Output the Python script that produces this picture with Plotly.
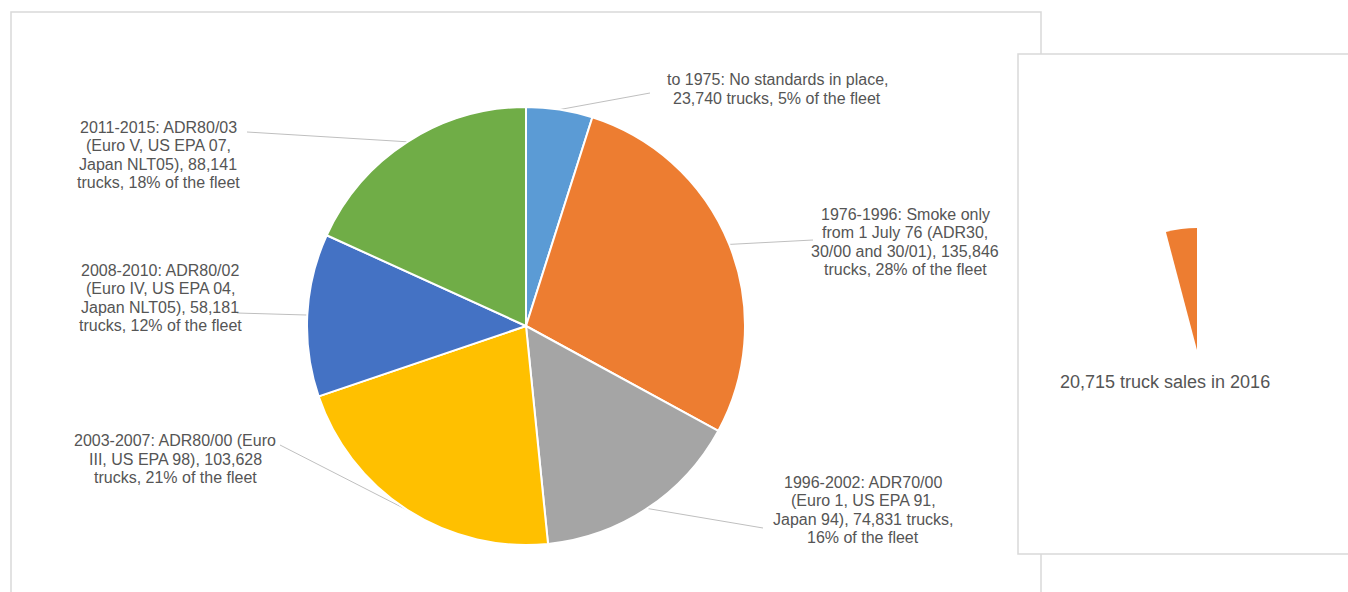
import numpy as np
import plotly.graph_objects as go

# ---------------- data ----------------
categories = ["to 1975", "1976-1996", "1996-2002", "2003-2007", "2008-2010", "2011-2015"]
trucks = [23740, 135846, 74831, 103628, 58181, 88141]
fleet_share_pct = [5, 28, 16, 21, 12, 18]
slice_colors = ["#5B9BD5", "#ED7D31", "#A5A5A5", "#FFC000", "#4472C4", "#70AD47"]
label_texts = [
    "to 1975: No standards in place,<br>23,740 trucks, 5% of the fleet",
    "1976-1996: Smoke only<br>from 1 July 76 (ADR30,<br>30/00 and 30/01), 135,846<br>trucks, 28% of the fleet",
    "1996-2002: ADR70/00<br>(Euro 1, US EPA 91,<br>Japan 94), 74,831 trucks,<br>16% of the fleet",
    "2003-2007: ADR80/00 (Euro<br>III, US EPA 98), 103,628<br>trucks, 21% of the fleet",
    "2008-2010: ADR80/02<br>(Euro IV, US EPA 04,<br>Japan NLT05), 58,181<br>trucks, 12% of the fleet",
    "2011-2015: ADR80/03<br>(Euro V, US EPA 07,<br>Japan NLT05), 88,141<br>trucks, 18% of the fleet",
]
sales_2016 = 20715
sales_label = "20,715 truck sales in 2016"

# ---------------- layout (pixels) ----------------
W, H = 1348, 592
pie_cx, pie_cy, pie_r = 526, 326, 219
pie2_cx, pie2_cy, pie2_r = 1197, 350, 122
# label block centres and leader-line ends near the labels
label_pos = [(777, 89), (905, 242), (863, 510), (175, 459), (160, 298), (158, 155)]
leader_label_end = [(650, 93), (813, 240), (763, 528), (280, 445), (237, 313), (247, 132)]
LINE_H = 18.6

TEXT = "#555555"
FONT = "Liberation Sans, Arial, sans-serif"


def domain(cx, cy, r):
    return dict(x=[(cx - r) / W, (cx + r) / W], y=[(H - cy - r) / H, (H - cy + r) / H])


fig = go.Figure()

# leader lines computed from slice mid-angles
vals = np.array(trucks, dtype=float)
frac = vals / vals.sum()
mid = np.cumsum(frac) - frac / 2
lx, ly = [], []
for m, (ex, ey) in zip(mid, leader_label_end):
    ang = 2 * np.pi * m  # clockwise from 12 o'clock
    px = pie_cx + pie_r * np.sin(ang)
    py = pie_cy - pie_r * np.cos(ang)
    lx += [ex, px, None]
    ly += [ey, py, None]
fig.add_trace(go.Scatter(x=lx, y=ly, mode="lines", line=dict(color="#BFBFBF", width=1),
                         hoverinfo="skip", showlegend=False))

fig.add_trace(go.Pie(
    labels=categories, values=trucks, sort=False, direction="clockwise", rotation=0,
    marker=dict(colors=slice_colors, line=dict(color="white", width=2)),
    textinfo="none", showlegend=False, domain=domain(pie_cx, pie_cy, pie_r),
))

# second panel: the 2016 sales as a sliver of a pie whose remainder is invisible
fig.add_trace(go.Pie(
    labels=["fleet", "2016 sales"], values=[sum(trucks), sales_2016], sort=False,
    direction="clockwise", rotation=0,
    marker=dict(colors=["rgba(0,0,0,0)", "#ED7D31"], line=dict(color="rgba(0,0,0,0)", width=0)),
    textinfo="none", showlegend=False, domain=domain(pie2_cx, pie2_cy, pie2_r),
))

annotations = []
for txt, (x, y) in zip(label_texts, label_pos):
    lines = txt.split("<br>")
    n = len(lines)
    for i, ln in enumerate(lines):
        annotations.append(dict(x=x, y=y + (i - (n - 1) / 2) * LINE_H, xref="x", yref="y",
                                text=ln, showarrow=False,
                                font=dict(family=FONT, size=16, color=TEXT),
                                xanchor="center", yanchor="middle"))
annotations.append(dict(x=1165, y=382, xref="x", yref="y", text=sales_label, showarrow=False,
                        font=dict(family=FONT, size=18, color=TEXT), xanchor="center", yanchor="middle"))

shapes = [
    dict(type="rect", xref="x", yref="y", x0=11, y0=12, x1=1041, y1=620,
         line=dict(color="#D9D9D9", width=1.5), fillcolor="white", layer="below"),
    dict(type="rect", xref="x", yref="y", x0=1018, y0=54, x1=1400, y1=554,
         line=dict(color="#D9D9D9", width=1.5), fillcolor="white", layer="below"),
]

fig.update_layout(
    width=W, height=H, margin=dict(l=0, r=0, t=0, b=0),
    paper_bgcolor="white", plot_bgcolor="rgba(0,0,0,0)",
    xaxis=dict(range=[0, W], visible=False, domain=[0, 1], fixedrange=True),
    yaxis=dict(range=[H, 0], visible=False, domain=[0, 1], fixedrange=True),
    annotations=annotations, shapes=shapes, showlegend=False,
)

fig.write_html("out.html", config={"displayModeBar": False},
               post_script="document.body.style.margin='0';document.body.style.overflow='hidden';")
